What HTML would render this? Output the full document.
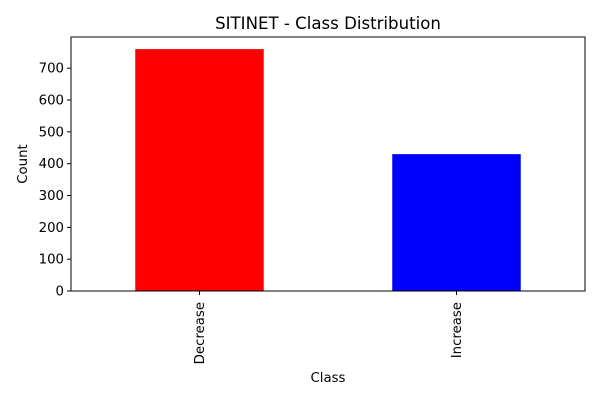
<!DOCTYPE html>
<html><head><meta charset="utf-8"><style>
body{margin:0;background:#fff;font-family:"Liberation Sans","DejaVu Sans",sans-serif}
</style></head><body>
<svg id="chart" width="600" height="400" xmlns="http://www.w3.org/2000/svg">
<rect width="600" height="400" fill="#fff"/>
<text x="328" y="29" text-anchor="middle" font-size="16.6" font-family="DejaVu Sans, sans-serif">SITINET - Class Distribution</text>
<g id="bars"></g>
<g id="yticks"></g>
<g id="xticks"></g>
<rect x="71" y="37" width="514" height="254" fill="none" stroke="#000" stroke-width="1"/>
<text x="328" y="382" text-anchor="middle" font-size="13.3" font-family="DejaVu Sans, sans-serif">Class</text>
<text transform="translate(27,164) rotate(-90)" text-anchor="middle" font-size="13.3" font-family="DejaVu Sans, sans-serif">Count</text>
</svg>
<script>
const categories = ["Decrease", "Increase"];
const counts = [760, 430];
const barColors = ["#ff0000", "#0000ff"];
const yTicks = [0, 100, 200, 300, 400, 500, 600, 700];

const NS = "http://www.w3.org/2000/svg";
const L = 71, R = 585, T = 37, B = 291;
const yMax = Math.max(...counts) * 1.05;
const y = v => B - v / yMax * (B - T);
const unit = (R - L) / categories.length;
const xc = i => L + unit * (i + 0.5);
const barW = unit * 0.5;

const bars = document.getElementById("bars");
counts.forEach((v, i) => {
  const r = document.createElementNS(NS, "rect");
  r.setAttribute("x", xc(i) - barW / 2);
  r.setAttribute("y", y(v));
  r.setAttribute("width", barW);
  r.setAttribute("height", B - y(v));
  r.setAttribute("fill", barColors[i]);
  
  
  bars.appendChild(r);
});

const yt = document.getElementById("yticks");
yTicks.forEach(t => {
  const l = document.createElementNS(NS, "line");
  l.setAttribute("x1", L - 4); l.setAttribute("x2", L);
  l.setAttribute("y1", y(t)); l.setAttribute("y2", y(t));
  l.setAttribute("stroke", "#000");
  
  
  yt.appendChild(l);
  const tx = document.createElementNS(NS, "text");
  tx.setAttribute("x", L - 7); tx.setAttribute("y", y(t) + 4.5);
  tx.setAttribute("text-anchor", "end");
  tx.setAttribute("font-size", "13.3");
  tx.setAttribute("font-family", "DejaVu Sans, sans-serif");
  tx.textContent = t;
  
  
  yt.appendChild(tx);
});

const xt = document.getElementById("xticks");
categories.forEach((c, i) => {
  const l = document.createElementNS(NS, "line");
  l.setAttribute("x1", xc(i)); l.setAttribute("x2", xc(i));
  l.setAttribute("y1", B); l.setAttribute("y2", B + 4);
  l.setAttribute("stroke", "#000");
  
  
  xt.appendChild(l);
  const tx = document.createElementNS(NS, "text");
  tx.setAttribute("transform", "translate(" + (xc(i) + 4.5) + "," + (B + 11) + ") rotate(-90)");
  tx.setAttribute("text-anchor", "end");
  tx.setAttribute("font-size", "13.3");
  tx.setAttribute("font-family", "DejaVu Sans, sans-serif");
  tx.textContent = c;
  
  
  xt.appendChild(tx);
});
</script>
</body></html>
